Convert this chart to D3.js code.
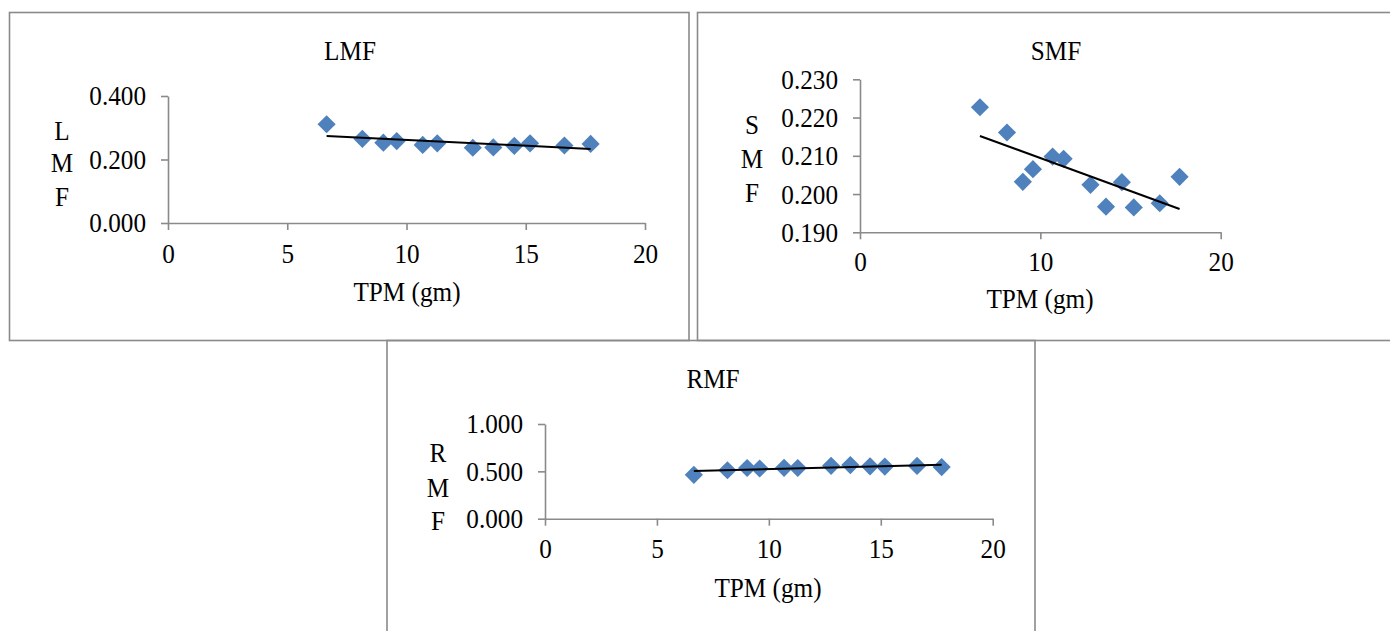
<!DOCTYPE html>
<html>
<head>
<meta charset="utf-8">
<script src="https://cdn.jsdelivr.net/npm/d3@7"></script>
<style>
body { margin: 0; background: #fff; }
svg { display: block; }
</style>
</head>
<body>
<script>
// TPM (gm) values, shared by the three panels
const tpm = [6.65, 8.15, 9.03, 9.59, 10.68, 11.29, 12.78, 13.64, 14.52, 15.18, 16.62, 17.72];
const lmf = [0.311, 0.265, 0.253, 0.258, 0.246, 0.251, 0.237, 0.238, 0.243, 0.251, 0.244, 0.249];
const smf = [0.2227, 0.2161, 0.2032, 0.2065, 0.2098, 0.2092, 0.2024, 0.1967, 0.2031, 0.1965, 0.1976, 0.2045];
const rmf = [0.463, 0.512, 0.535, 0.530, 0.537, 0.535, 0.558, 0.566, 0.553, 0.550, 0.557, 0.545];

const lmfTicks = [0, 0.2, 0.4];
const smfTicks = [0.19, 0.20, 0.21, 0.22, 0.23];
const rmfTicks = [0, 0.5, 1];
const xTicksFine = [0, 5, 10, 15, 20];
const xTicksCoarse = [0, 10, 20];

const W = 1390, H = 631;
const font = "'Liberation Serif', 'Times New Roman', serif";
const fs = 28;
const sx = 0.9; // the source text is a bit condensed
const blue = "#4f81bd";
const grey = "#8a8a8a";

const svg = d3.select("body").append("svg")
  .attr("width", W)
  .attr("height", H);

// squeeze text horizontally around its own x anchor
function squeeze(sel) {
  sel.attr("transform", function() {
    const x = +this.getAttribute("x") || 0;
    return "translate(" + x + ",0) scale(" + sx + ",1) translate(" + (-x) + ",0)";
  });
}

// panel frames
const frames = [
  [9.5, 12.5, 679.5, 328],
  [697.5, 12.5, 700, 328],
  [387, 340.5, 648, 300]
];
svg.selectAll("rect.frame")
  .data(frames)
  .enter()
  .append("rect")
  .attr("class", "frame")
  .attr("x", d => d[0])
  .attr("y", d => d[1])
  .attr("width", d => d[2])
  .attr("height", d => d[3])
  .attr("fill", "none")
  .attr("stroke", grey)
  .attr("stroke-width", 1.6);

const panels = [
  { title: "LMF", ys: lmf, yDomain: [0, 0.4], yTicks: lmfTicks, xTicks: xTicksFine,
    x0: 168, x1: 645, yb: 223, yt: 96, titleX: 350, titleY: 60,
    labX: 62, labY: [140, 172, 206], xlabX: 407, xlabY: 301, xpad: 13 },
  { title: "SMF", ys: smf, yDomain: [0.19, 0.23], yTicks: smfTicks, xTicks: xTicksCoarse,
    x0: 860, x1: 1220.7, yb: 232.3, yt: 79.3, titleX: 1056, titleY: 60,
    labX: 752, labY: [134, 168, 202], xlabX: 1040, xlabY: 308, xpad: 12 },
  { title: "RMF", ys: rmf, yDomain: [0, 1], yTicks: rmfTicks, xTicks: xTicksFine,
    x0: 545, x1: 992.7, yb: 518.7, yt: 424, titleX: 713, titleY: 388,
    labX: 438, labY: [462, 497, 530], xlabX: 768, xlabY: 597, xpad: 12 }
];

function fit(xs, ys) {
  const mx = d3.mean(xs), my = d3.mean(ys);
  let sxy = 0, sxx = 0;
  xs.forEach((x, i) => { sxy += (x - mx) * (ys[i] - my); sxx += (x - mx) * (x - mx); });
  const b = sxy / sxx;
  return x => my + b * (x - mx);
}

panels.forEach(p => {
  const x = d3.scaleLinear().domain([0, 20]).range([p.x0, p.x1]);
  const y = d3.scaleLinear().domain(p.yDomain).range([p.yb, p.yt]);
  const g = svg.append("g");

  const xAxis = g.append("g")
    .attr("transform", "translate(0," + p.yb + ")")
    .call(d3.axisBottom(x).tickValues(p.xTicks).tickFormat(d3.format("d"))
      .tickSize(7).tickSizeOuter(0).tickPadding(p.xpad));
  const yAxis = g.append("g")
    .attr("transform", "translate(" + p.x0 + ",0)")
    .call(d3.axisLeft(y).tickValues(p.yTicks).tickFormat(d3.format(".3f"))
      .tickSize(7).tickSizeOuter(0).tickPadding(15));

  [xAxis, yAxis].forEach(a => {
    a.selectAll("path, line").attr("stroke", grey).attr("stroke-width", 1.6);
    a.selectAll("text").attr("fill", "#000").style("font-family", font).style("font-size", fs + "px")
      .call(squeeze);
  });

  const data = tpm.map((t, i) => ({ x: t, y: p.ys[i] }));
  g.selectAll("path.pt")
    .data(data)
    .enter()
    .append("path")
    .attr("class", "pt")
    .attr("d", d3.symbol().type(d3.symbolSquare).size(165))
    .attr("transform", d => "translate(" + x(d.x) + "," + y(d.y) + ") rotate(45)")
    .attr("fill", blue);

  const f = fit(tpm, p.ys);
  const ext = d3.extent(tpm);
  g.append("line")
    .attr("x1", x(ext[0])).attr("y1", y(f(ext[0])))
    .attr("x2", x(ext[1])).attr("y2", y(f(ext[1])))
    .attr("stroke", "#000")
    .attr("stroke-width", 2);

  const txt = (s, tx, ty) => g.append("text")
    .attr("x", tx).attr("y", ty)
    .attr("text-anchor", "middle")
    .style("font-family", font)
    .style("font-size", fs + "px")
    .text(s)
    .call(squeeze);

  txt(p.title, p.titleX, p.titleY);
  txt("TPM (gm)", p.xlabX, p.xlabY);
  p.title.split("").forEach((c, i) => txt(c, p.labX, p.labY[i]));
});
</script>
</body>
</html>
